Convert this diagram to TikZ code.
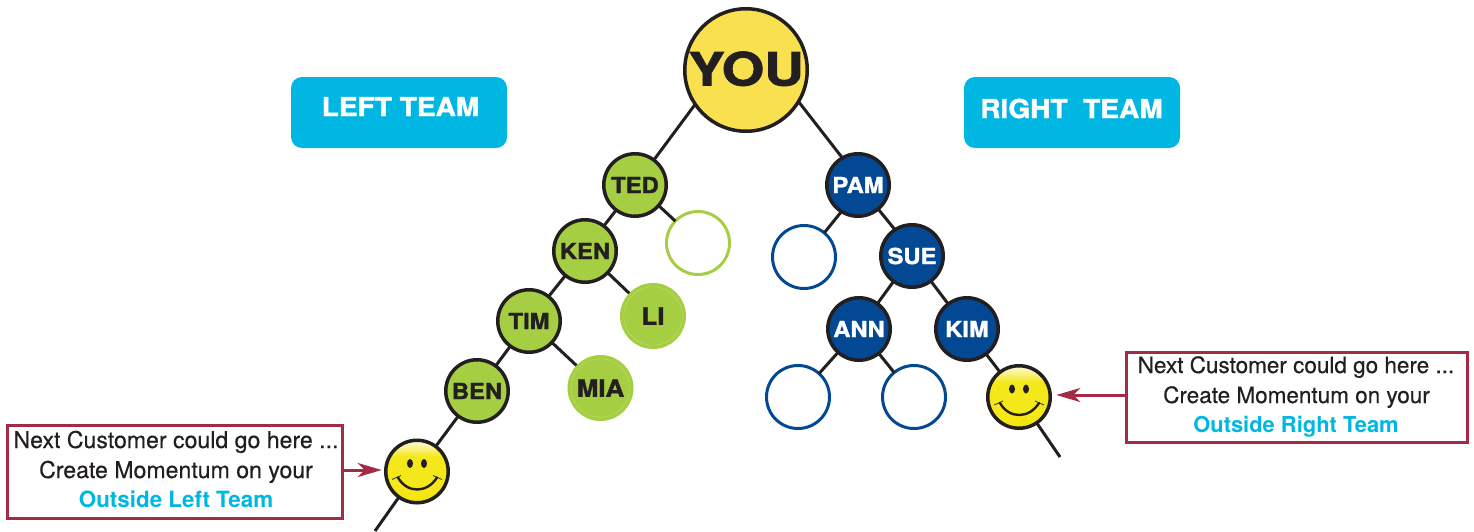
\documentclass[tikz,border=0pt]{standalone}
\usepackage{fontspec}
\setmainfont{TeX Gyre Heros}
\newfontfamily\widefont[FakeStretch=1.08,FakeBold=1.6]{TeX Gyre Heros}
\newfontfamily\notefont[FakeBold=0.4]{TeX Gyre Heros}
\usetikzlibrary{arrows.meta}
\definecolor{inkblack}{HTML}{231F20}
\definecolor{youyellow}{HTML}{F9E04F}
\definecolor{leafgreen}{HTML}{A5CE42}
\definecolor{leafrim}{HTML}{BADB6C}
\definecolor{navyblue}{HTML}{034892}
\definecolor{teamcyan}{HTML}{00B6E3}
\definecolor{wine}{HTML}{A32B45}
\definecolor{smileD}{HTML}{F5E400}
\definecolor{smileM}{HTML}{F4E81A}
\definecolor{smileT}{HTML}{FBF7B8}
\pgfdeclareverticalshading{smilefill}{100bp}{
  color(0bp)=(smileD); color(25bp)=(smileD); color(36bp)=(smileM); color(62bp)=(smileM); color(72bp)=(smileT); color(75bp)=(smileT); color(100bp)=(smileT)}
\newcommand{\lbl}[1]{\makebox[0pt]{#1}}
\tikzset{
  member/.style={circle,draw=inkblack,line width=3.5pt,minimum size=62.5pt,inner sep=0pt,outer sep=0pt,font=\widefont\bfseries\fontsize{22}{22}\selectfont},
  gmember/.style={member,fill=leafgreen,text=inkblack},
  bmember/.style={member,fill=navyblue,text=white},
  lmember/.style={circle,draw=leafgreen,double=leafrim,double distance=.5pt,line width=3.5pt,fill=leafgreen,minimum size=58.5pt,inner sep=0pt,outer sep=3.8pt,text=inkblack,font=\widefont\bfseries\fontsize{24}{24}\selectfont},
  gempty/.style={circle,draw=leafgreen,fill=white,line width=3pt,minimum size=63pt,inner sep=0pt,outer sep=0pt},
  bempty/.style={circle,draw=navyblue,fill=white,line width=3pt,minimum size=63pt,inner sep=0pt,outer sep=0pt},
  smiley/.style={circle,draw=inkblack,line width=3.5pt,minimum size=62.5pt,inner sep=0pt,outer sep=0pt,shading=smilefill},
  teambox/.style={rounded corners=11pt,fill=teamcyan,minimum width=216pt,minimum height=71pt,inner sep=0pt},
  teamlabel/.style={anchor=base,inner sep=0pt,text=white,font=\widefont\bfseries\fontsize{26}{26}\selectfont},
  notebox/.style={draw=wine,line width=3pt,fill=white,inner sep=0pt},
  noteline/.style={anchor=base,inner sep=0pt,inkblack,font=\notefont\fontsize{23.1}{23.1}\selectfont},
  noteliner/.style={anchor=base,inner sep=0pt,inkblack,font=\notefont\fontsize{22.5}{22.5}\selectfont},
  notecyan/.style={anchor=base,inner sep=0pt,teamcyan,font=\bfseries\fontsize{22.4}{22.4}\selectfont},
  notecyanr/.style={anchor=base,inner sep=0pt,teamcyan,font=\bfseries\fontsize{21.9}{21.9}\selectfont},
  link/.style={draw=inkblack,line width=3pt},
  pointer/.style={draw=wine,line width=3pt,-{Stealth[length=24pt,width=14pt,inset=7pt]}},
}
\newcommand{\smileface}[1]{
  \fill[inkblack] ([shift={(-7,-8)}]#1.center) ellipse [x radius=3,y radius=4.5];
  \fill[inkblack] ([shift={(7,-8)}]#1.center) ellipse [x radius=3,y radius=4.5];
  \draw[inkblack,line width=2.4pt,line cap=round] ([shift={(-19,6)}]#1.center) .. controls ([shift={(-10,22)}]#1.center) and ([shift={(10,22)}]#1.center) .. ([shift={(20,6)}]#1.center);
  \draw[inkblack,line width=.7pt] ([shift={(-25,8)}]#1.center) -- ([shift={(-16,4)}]#1.center);
  \draw[inkblack,line width=.7pt] ([shift={(25,8)}]#1.center) -- ([shift={(16,4)}]#1.center);
}
\begin{document}
\begin{tikzpicture}[x=1pt,y=-1pt]
\useasboundingbox (0,0) rectangle (1474,531);
% nodes
\node[circle,draw=inkblack,line width=3.5pt,fill=youyellow,minimum size=122.5pt,inner sep=0pt,outer sep=0pt,text=inkblack,font=\widefont\bfseries\fontsize{46}{46}\selectfont] (you) at (746,70) {\lbl{\raisebox{3pt}{\scalebox{1.1}[1]{YOU}}}};
\node[gmember] (ted) at (635,185) {\lbl{TED}};
\node[gmember] (ken) at (585,251) {\lbl{KEN}};
\node[gmember] (tim) at (529,321) {\lbl{TIM}};
\node[gmember] (ben) at (477,391) {\lbl{BEN}};
\node[lmember] (li) at (653,316) {\lbl{LI}};
\node[lmember] (mia) at (600.5,388) {\lbl{MIA}};
\node[gempty] (ge) at (698,243) {};
\node[bmember] (pam) at (858,185) {\lbl{PAM}};
\node[bmember] (sue) at (912,256) {\lbl{SUE}};
\node[bmember] (ann) at (859,329) {\lbl{ANN}};
\node[bmember] (kim) at (967,329) {\lbl{KIM}};
\node[bempty] (be1) at (804,257) {};
\node[bempty] (be2) at (798,397) {};
\node[bempty] (be3) at (914,397) {};
\node[smiley] (sl) at (417,471.5) {};
\node[smiley] (sr) at (1019,397) {};
\smileface{sl}
\smileface{sr}
\coordinate (lend) at (375,531);
\coordinate (rend) at (1060,457);
% team labels
\node[teambox] (lt) at (399,112.5) {};
\node[teamlabel] (ltt) at (400.5,116) {LEFT TEAM};
\node[teambox] (rt) at (1072,112.5) {};
\node[teamlabel] (rtt) at (1071.5,118) {RIGHT\ \ TEAM};
% notes
\node[notebox,minimum width=335pt,minimum height=93pt] (ln) at (174.5,471.5) {};
\node[noteline] (ln1) at (176,448) {Next Customer could go here ...};
\node[noteline] (ln2) at (176,478) {Create Momentum on your};
\node[notecyan] (ln3) at (176,507) {Outside Left Team};
\node[notebox,minimum width=341pt,minimum height=90pt] (rn) at (1296.5,397) {};
\node[noteliner] (rn1) at (1296,373) {Next Customer could go here ...};
\node[noteliner] (rn2) at (1296.5,403) {Create Momentum on your};
\node[notecyanr] (rn3) at (1296,432) {Outside Right Team};
% connectors
\draw[link] (you.214) -- (ted.53);
\draw[link] (you.-31) -- (pam.120);
\draw[link] (ted.233) -- (ken.53);
\draw[link] (ted.-41) -- (ge.136);
\draw[link] (pam.238) -- (be1.50);
\draw[link] (pam.-50) -- (sue.123);
\draw[link] (ken) -- (tim);
\draw[link] (ken) -- (li);
\draw[link] (tim) -- (ben);
\draw[link] (tim) -- (mia);
\draw[link] (ben) -- (sl);
\draw[link] (sl) -- (lend);
\draw[link] (sue) -- (ann);
\draw[link] (sue) -- (kim);
\draw[link] (ann) -- (be2);
\draw[link] (ann) -- (be3);
\draw[link] (kim) -- (sr);
\draw[link] (sr) -- (rend);
\draw[pointer] ([yshift=1.5pt]ln.east |- sl) -- ([yshift=1.5pt,xshift=-4pt]sl.west);
\draw[pointer] ([yshift=2pt]rn.west |- sr) -- ([yshift=2pt,xshift=6pt]sr.east);
\end{tikzpicture}
\end{document}
